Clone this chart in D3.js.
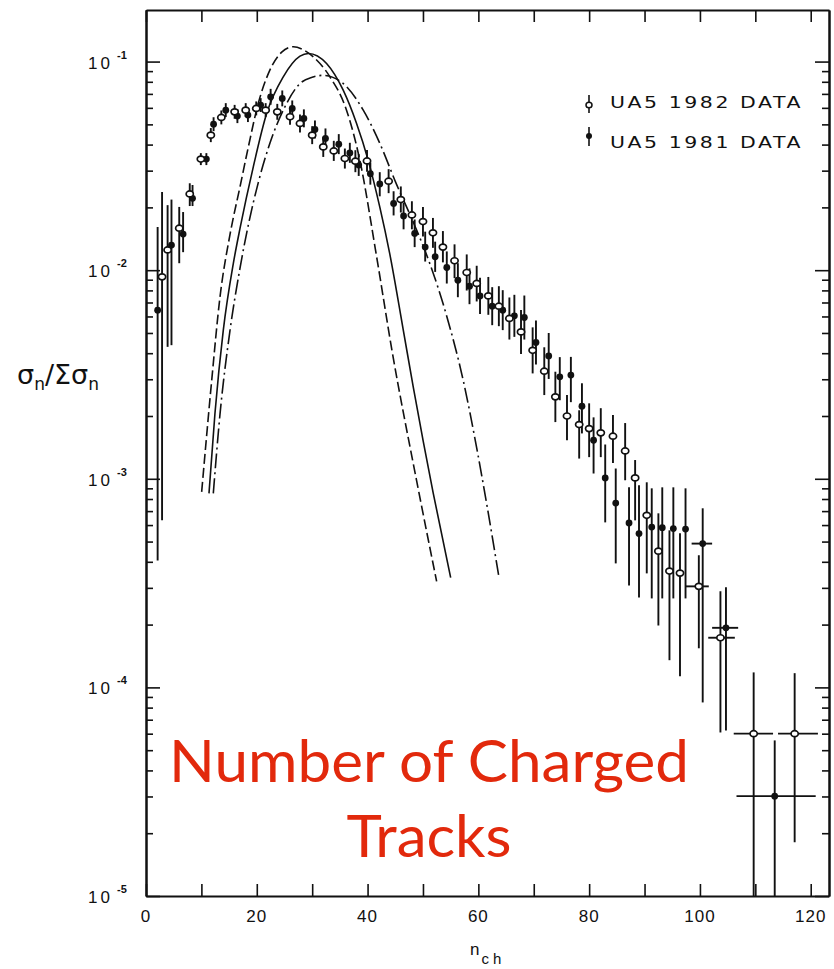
<!DOCTYPE html>
<html>
<head>
<meta charset="utf-8">
<script src="https://cdn.jsdelivr.net/npm/d3@7"></script>
<style>
  body { margin: 0; background: #fff; }
  svg { display: block; }
</style>
</head>
<body>
<div id="chart"></div>
<script>
// UA5 charged multiplicity distribution
// rows: [n_ch, sigma_n/sum, lower end of bar, upper end of bar]
var ua5_1982 = [
  [2.9, 0.00929, 0.000632, 0.0237], [3.9, 0.0125, 0.00429, 0.0205],
  [6.0, 0.0159, 0.0108, 0.0201], [7.9, 0.0232, 0.0203, 0.0261],
  [9.9, 0.0341, 0.0319, 0.0364], [11.7, 0.0444, 0.0411, 0.0480],
  [13.6, 0.0540, 0.0500, 0.0583], [16.0, 0.0574, 0.0532, 0.0620],
  [18.0, 0.0585, 0.0542, 0.0632], [19.9, 0.0596, 0.0552, 0.0644],
  [21.6, 0.0585, 0.0542, 0.0632], [23.7, 0.0574, 0.0526, 0.0627],
  [26.0, 0.0544, 0.0498, 0.0594], [27.8, 0.0505, 0.0457, 0.0558],
  [30.0, 0.0444, 0.0402, 0.0490], [32.0, 0.0390, 0.0349, 0.0436],
  [33.9, 0.0373, 0.0334, 0.0417], [35.9, 0.0343, 0.0307, 0.0383],
  [37.8, 0.0333, 0.0295, 0.0376], [39.9, 0.0334, 0.0296, 0.0377],
  [43.8, 0.0267, 0.0234, 0.0305], [46.0, 0.0218, 0.0189, 0.0252],
  [48.0, 0.0184, 0.0157, 0.0214], [50.0, 0.0171, 0.0145, 0.0201],
  [51.8, 0.0151, 0.0128, 0.0178], [53.6, 0.0129, 0.0109, 0.0154],
  [55.7, 0.0111, 0.00916, 0.0133], [57.9, 0.00975, 0.00799, 0.0119],
  [59.7, 0.00864, 0.00708, 0.0105], [61.8, 0.00753, 0.00611, 0.00928],
  [63.7, 0.00672, 0.00539, 0.00838], [65.6, 0.00587, 0.00465, 0.0074],
  [67.7, 0.00506, 0.00397, 0.00645], [69.8, 0.00413, 0.0032, 0.00532],
  [71.9, 0.00328, 0.00252, 0.00427], [73.9, 0.00247, 0.00187, 0.00326],
  [76.0, 0.00200, 0.00153, 0.00252], [78.2, 0.00182, 0.00125, 0.00213],
  [80.0, 0.00174, 0.00127, 0.0023], [82.1, 0.00166, 0.00127, 0.00218],
  [84.3, 0.00160, 0.00119, 0.00202], [86.5, 0.00136, 0.000984, 0.00185],
  [88.3, 0.00101, 0.000632, 0.00123], [90.4, 0.000668, 0.000352, 0.000962],
  [92.5, 0.00045, 0.000198, 0.000683], [94.5, 0.000361, 0.000135, 0.000566],
  [96.4, 0.000353, 0.000113, 0.000548], [99.8, 0.000305, 0.000154, 0.00043],
  [103.7, 0.000173, 0.0000608, 0.000289], [109.7, 0.00006, 0.00001, 0.000118],
  [117.1, 0.00006, 0.0000181, 0.000117]
];

var ua5_1981 = [
  [2.1, 0.00643, 0.000406, 0.0161], [4.6, 0.0132, 0.00437, 0.0218],
  [6.7, 0.0149, 0.0122, 0.0190], [8.4, 0.0221, 0.0203, 0.0256],
  [10.9, 0.0341, 0.0319, 0.0364], [12.2, 0.0501, 0.0464, 0.0541],
  [14.4, 0.0585, 0.0542, 0.0632], [16.5, 0.0548, 0.0507, 0.0592],
  [18.4, 0.0554, 0.0513, 0.0598], [20.7, 0.0619, 0.0573, 0.0668],
  [22.5, 0.0678, 0.0621, 0.0740], [24.6, 0.0666, 0.0610, 0.0727],
  [26.4, 0.0596, 0.0546, 0.0651], [28.5, 0.0534, 0.0484, 0.0590],
  [30.5, 0.0473, 0.0428, 0.0522], [32.4, 0.0428, 0.0383, 0.0478],
  [34.8, 0.0402, 0.0360, 0.0449], [36.8, 0.0365, 0.0327, 0.0408],
  [38.4, 0.0319, 0.0283, 0.0360], [40.5, 0.0290, 0.0257, 0.0328],
  [42.2, 0.0259, 0.0226, 0.0295], [44.7, 0.0209, 0.0183, 0.0239],
  [46.5, 0.0182, 0.0157, 0.0210], [48.5, 0.0150, 0.0129, 0.0175],
  [50.4, 0.0129, 0.0110, 0.0153], [52.2, 0.0116, 0.00981, 0.0137],
  [54.3, 0.0103, 0.00863, 0.0123], [56.3, 0.00895, 0.00742, 0.0108],
  [58.4, 0.00838, 0.00687, 0.0102], [60.3, 0.00753, 0.00617, 0.00919],
  [62.5, 0.00672, 0.00545, 0.00829], [64.4, 0.00643, 0.00516, 0.00802],
  [66.5, 0.00604, 0.00479, 0.00762], [68.3, 0.00593, 0.00465, 0.00756],
  [70.4, 0.0045, 0.00353, 0.00574], [72.7, 0.00388, 0.00301, 0.0050],
  [74.7, 0.00308, 0.00238, 0.00383], [76.7, 0.00314, 0.00233, 0.00384],
  [78.7, 0.00223, 0.00165, 0.00287], [80.8, 0.00153, 0.00106, 0.00197],
  [82.9, 0.00101, 0.000618, 0.00146], [84.8, 0.000765, 0.000393, 0.00112],
  [87.2, 0.000614, 0.000308, 0.00091], [89.0, 0.000546, 0.00027, 0.000931],
  [91.3, 0.000587, 0.000267, 0.0009], [93.2, 0.000583, 0.000267, 0.00091],
  [95.2, 0.000577, 0.000267, 0.00091], [97.4, 0.000574, 0.000267, 0.0009],
  [100.5, 0.000489, 0.0000847, 0.000722], [104.7, 0.000193, 0.0000622, 0.000302],
  [113.5, 0.0000301, 0.00001, 0.0000557]
];

// wide bins at high n: [n, value, n from, n to]
var bins_1982 = [[99.8, 0.000305, 97.3, 101.6], [103.7, 0.000173, 101.5, 106.3],
                 [109.7, 0.00006, 106.1, 113.2], [117.1, 0.00006, 114.1, 121.3]];
var bins_1981 = [[100.5, 0.000489, 98.5, 102.2], [104.7, 0.000193, 102.2, 106.9],
                 [113.5, 0.0000301, 106.6, 120.9]];

// model curves, points
var curveDashed = [[10.05, 8.65e-4], [11.86, 2.96e-3], [13.36, 7.45e-3], [15.16, 0.0148],
  [16.97, 0.0251], [18.47, 0.0389], [20.27, 0.0631], [22.38, 0.0912], [24.5, 0.111],
  [26.6, 0.1178], [28.5, 0.1135], [30.2, 0.1054], [33.2, 0.0845], [36.2, 0.0585],
  [38.6, 0.0337], [41.6, 0.01175], [44.4, 0.00413], [48.86, 0.000977], [52.47, 0.000322]];
var curveSolid = [[11.37, 8.51e-4], [12.45, 2.06e-3], [13.95, 5.15e-3], [15.76, 0.01076],
  [16.97, 0.01585], [19.37, 0.0313], [21.79, 0.0565], [24.78, 0.0845], [27.8, 0.1062],
  [29.3, 0.1094], [32.6, 0.0979], [35.6, 0.0729], [38.0, 0.0506], [40.1, 0.0337],
  [42.2, 0.0201], [44.0, 0.0120], [46.4, 0.00525], [48.25, 0.00275], [50.05, 0.00151],
  [51.86, 0.000851], [55.0, 0.000336]];
var curveDashDot = [[12.15, 8.51e-4], [13.36, 2.04e-3], [15.16, 5.13e-3], [16.97, 0.01023],
  [18.5, 0.0166], [20.27, 0.0263], [22.38, 0.0407], [24.78, 0.0585], [27.8, 0.0785],
  [30.0, 0.0841], [32.0, 0.0859], [35.6, 0.0785], [39.22, 0.0585], [42.2, 0.0406],
  [45.25, 0.0257], [48.25, 0.0170], [51.26, 0.01072], [54.28, 0.00603], [57.27, 0.00296],
  [59.69, 0.00141], [61.5, 0.000759], [63.72, 0.000337]];

var xTicks = d3.range(0, 121, 10);
var xLabels = [0, 20, 40, 60, 80, 100, 120];
var decades = [-5, -4, -3, -2, -1];
var legendLabels = ["UA5 1982 DATA", "UA5 1981 DATA"];

var width = 834, height = 969;
var svg = d3.select("#chart").append("svg")
    .attr("width", width)
    .attr("height", height);

var x = d3.scaleLinear().domain([0, 123.3]).range([146, 829]);
var y = d3.scaleLog().domain([1e-5, 0.1767]).range([896, 10]);

var majors = decades.map(function(e){ return Math.pow(10, e); });
var minors = [];
decades.forEach(function(e){
    for (var k = 2; k <= 9; k++) {
        var v = k * Math.pow(10, e);
        if (v < 0.1767) minors.push(v);
    }
});

var axisFont = "'Liberation Sans', 'DejaVu Sans', sans-serif";

// frame and axes, ticks point inward
function styleAxis(g){
    g.selectAll("path").attr("stroke", "#111").attr("stroke-width", 2);
    g.selectAll("line").attr("stroke", "#111").attr("stroke-width", 1.6);
    g.selectAll("text").remove();
}

svg.append("g").attr("transform", "translate(0,896)")
    .call(d3.axisBottom(x).tickValues(xTicks).tickSizeInner(-12).tickSizeOuter(0))
    .call(styleAxis);
svg.append("g").attr("transform", "translate(0,10)")
    .call(d3.axisTop(x).tickValues(xTicks).tickSizeInner(-12).tickSizeOuter(0))
    .call(styleAxis);
svg.append("g").attr("transform", "translate(146,0)")
    .call(d3.axisLeft(y).tickValues(majors).tickSizeInner(-14).tickSizeOuter(0))
    .call(styleAxis);
svg.append("g").attr("transform", "translate(146,0)")
    .call(d3.axisLeft(y).tickValues(minors).tickSizeInner(-7).tickSizeOuter(0))
    .call(styleAxis);
svg.append("g").attr("transform", "translate(829,0)")
    .call(d3.axisRight(y).tickValues(majors).tickSizeInner(-14).tickSizeOuter(0))
    .call(styleAxis);
svg.append("g").attr("transform", "translate(829,0)")
    .call(d3.axisRight(y).tickValues(minors).tickSizeInner(-7).tickSizeOuter(0))
    .call(styleAxis);

// x tick labels
svg.append("g").selectAll("text")
    .data(xLabels)
    .enter().append("text")
    .attr("x", function(d){ return x(d); })
    .attr("y", 922)
    .attr("text-anchor", "middle")
    .attr("letter-spacing", "1px")
    .style("font-family", axisFont)
    .style("font-size", "17px")
    .style("fill", "#111")
    .text(function(d){ return d; });

// y tick labels: 10 with a raised exponent
svg.append("g").selectAll("text")
    .data(decades)
    .enter().append("text")
    .attr("x", 113)
    .attr("y", function(d){ return y(Math.pow(10, d)) + 7; })
    .attr("text-anchor", "end")
    .attr("letter-spacing", "3px")
    .style("font-family", axisFont)
    .style("font-size", "17px")
    .style("fill", "#111")
    .text("10");
svg.append("g").selectAll("text")
    .data(decades)
    .enter().append("text")
    .attr("x", 117)
    .attr("y", function(d){ return y(Math.pow(10, d)) - 3; })
    .style("font-family", axisFont)
    .style("font-size", "11px")
    .style("font-weight", "bold")
    .style("fill", "#111")
    .text(function(d){ return "-" + Math.abs(d); });

// axis titles
var yt = svg.append("text")
    .attr("x", 17).attr("y", 384)
    .style("font-family", "'DejaVu Sans', sans-serif")
    .style("font-size", "27px")
    .style("fill", "#111");
yt.append("tspan").text("\u03c3");
yt.append("tspan").attr("dy", 6).style("font-size", "17px").text("n");
yt.append("tspan").attr("dy", -6).text("/\u03a3\u03c3");
yt.append("tspan").attr("dy", 6).style("font-size", "17px").text("n");

var xt = svg.append("text")
    .attr("x", 470).attr("y", 955)
    .style("font-family", axisFont)
    .style("font-size", "17px")
    .style("fill", "#111");
xt.append("tspan").text("n");
xt.append("tspan").attr("dy", 9).attr("dx", 2).attr("letter-spacing", "4px")
    .style("font-size", "15px").text("ch");

// model curves
var line = d3.line()
    .x(function(d){ return x(d[0]); })
    .y(function(d){ return y(d[1]); })
    .curve(d3.curveMonotoneX);

var curves = [
    { data: curveDashed, dash: "10,4" },
    { data: curveSolid, dash: null },
    { data: curveDashDot, dash: "15,4,2,4" }
];
svg.append("g").selectAll("path")
    .data(curves)
    .enter().append("path")
    .attr("d", function(d){ return line(d.data); })
    .attr("fill", "none")
    .attr("stroke", "#111")
    .attr("stroke-width", 1.6)
    .attr("stroke-dasharray", function(d){ return d.dash; });

// error bars and markers
function drawSeries(data, bins, hollow){
    var g = svg.append("g");
    g.selectAll("line.v")
        .data(data)
        .enter().append("line")
        .attr("class", "v")
        .attr("x1", function(d){ return x(d[0]); })
        .attr("x2", function(d){ return x(d[0]); })
        .attr("y1", function(d){ return y(d[2]); })
        .attr("y2", function(d){ return y(d[3]); })
        .attr("stroke", "#111")
        .attr("stroke-width", 1.9);
    g.selectAll("line.h")
        .data(bins)
        .enter().append("line")
        .attr("class", "h")
        .attr("x1", function(d){ return x(d[2]); })
        .attr("x2", function(d){ return x(d[3]); })
        .attr("y1", function(d){ return y(d[1]); })
        .attr("y2", function(d){ return y(d[1]); })
        .attr("stroke", "#111")
        .attr("stroke-width", 1.9);
    if (hollow) {
        g.selectAll("ellipse")
            .data(data)
            .enter().append("ellipse")
            .attr("cx", function(d){ return x(d[0]); })
            .attr("cy", function(d){ return y(d[1]); })
            .attr("rx", 3.6)
            .attr("ry", 3)
            .attr("fill", "#fff")
            .attr("stroke", "#111")
            .attr("stroke-width", 1.7);
    } else {
        g.selectAll("circle")
            .data(data)
            .enter().append("circle")
            .attr("cx", function(d){ return x(d[0]); })
            .attr("cy", function(d){ return y(d[1]); })
            .attr("r", 3.4)
            .attr("fill", "#111");
    }
}
drawSeries(ua5_1981, bins_1981, false);
drawSeries(ua5_1982, bins_1982, true);

// legend
var leg = svg.append("g");
leg.selectAll("line")
    .data(legendLabels)
    .enter().append("line")
    .attr("x1", 589).attr("x2", 589)
    .attr("y1", function(d, i){ return 95 + i * 32; })
    .attr("y2", function(d, i){ return 113 + i * 33; })
    .attr("stroke", "#111")
    .attr("stroke-width", 1.6);
leg.append("ellipse").attr("cx", 589).attr("cy", 105).attr("rx", 3).attr("ry", 2.8)
    .attr("fill", "#fff").attr("stroke", "#111").attr("stroke-width", 1.5);
leg.append("circle").attr("cx", 589).attr("cy", 136).attr("r", 3).attr("fill", "#111");
leg.selectAll("text")
    .data(legendLabels)
    .enter().append("text")
    .attr("x", 610)
    .attr("y", function(d, i){ return 108 + i * 40; })
    .attr("textLength", 193)
    .attr("lengthAdjust", "spacingAndGlyphs")
    .attr("letter-spacing", "2px")
    .style("font-family", "'DejaVu Sans', sans-serif")
    .style("font-size", "16px")
    .style("fill", "#111")
    .text(function(d){ return d; });

// red annotation
var note = svg.append("text")
    .attr("text-anchor", "middle")
    .style("font-family", "Lato, 'Open Sans', sans-serif")
    .style("font-size", "59px")
    .style("fill", "#e2290c");
note.append("tspan").attr("x", 429).attr("y", 782)
    .attr("textLength", 520).attr("lengthAdjust", "spacingAndGlyphs")
    .text("Number of Charged");
note.append("tspan").attr("x", 429).attr("y", 857)
    .attr("textLength", 165).attr("lengthAdjust", "spacingAndGlyphs")
    .text("Tracks");
</script>
</body>
</html>
